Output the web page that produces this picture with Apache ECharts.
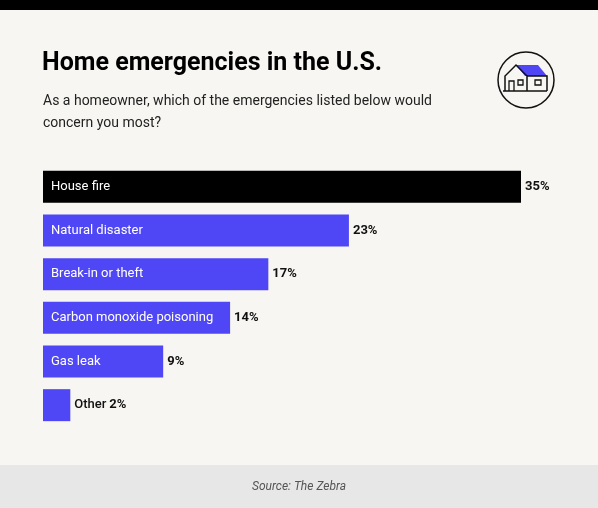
<!DOCTYPE html>
<html><head><meta charset="utf-8">
<script src="https://cdn.jsdelivr.net/npm/echarts@6/dist/echarts.min.js"></script>
<style>html,body{margin:0;padding:0;background:#f7f6f2}#c{width:598px;height:508px}</style>
</head><body><div id="c"></div>
<script>
const categories = ["House fire","Natural disaster","Break-in or theft","Carbon monoxide poisoning","Gas leak","Other"];
const values = [35, 22.4, 16.5, 13.7, 8.8, 2.0];
const valueLabels = ["35%","23%","17%","14%","9%","2%"];
const colors = ["#000000","#4f46f5","#4f46f5","#4f46f5","#4f46f5","#4f46f5"];

const chart = echarts.init(document.getElementById('c'));
const font = 'Roboto, "Liberation Sans", sans-serif';
chart.setOption({
  backgroundColor: '#f7f6f2',
  animation: false,
  grid: {left: 43, right: 77, top: 165, height: 262},
  xAxis: {type: 'value', min: 0, max: 35, show: false},
  yAxis: {type: 'category', data: categories, inverse: true, show: false},
  series: [
    {type: 'bar', barWidth: 32, barCategoryGap: 0,
     data: values.map((v,i)=>({value: v, itemStyle: {color: colors[i]}})),
     label: {show: true, position: 'insideLeft', distance: 8, color: '#fff', fontFamily: font, fontSize: 13,
       formatter: p => p.dataIndex === 5 ? '' : categories[p.dataIndex]}},
    {type: 'bar', barWidth: 32, barGap: '-100%', silent: true,
     data: values.map(v=>({value: v, itemStyle: {color: 'rgba(0,0,0,0)'}})),
     label: {show: true, position: 'right', distance: 4, fontFamily: font,
       formatter: p => p.dataIndex === 5 ? '{n|' + categories[5] + '} {v|' + valueLabels[5] + '}' : '{v|' + valueLabels[p.dataIndex] + '}',
       rich: {n: {fontSize: 13, color: '#111', fontFamily: font, fontWeight: 500},
              v: {fontSize: 13, color: '#111', fontFamily: font, fontWeight: 'bold'}}}}
  ],
  graphic: [
    {type: 'rect', shape: {x: 0, y: 0, width: 598, height: 10}, style: {fill: '#000'}},
    {type: 'rect', shape: {x: 0, y: 465, width: 598, height: 43}, style: {fill: '#e6e7e6'}},
    {type: 'text', x: 299, y: 487, style: {text: 'Source: The Zebra', fill: '#555', font: 'italic 12px ' + font, textAlign: 'center', textVerticalAlign: 'middle'}},
    {type: 'text', x: 42, y: 64, style: {text: 'Home emergencies in the U.S.', fill: '#000', font: 'bold 25px ' + font, textVerticalAlign: 'middle'}},
    {type: 'text', x: 43, y: 101, style: {text: 'As a homeowner, which of the emergencies listed below would', fill: '#222', font: '14px ' + font, textVerticalAlign: 'middle'}},
    {type: 'text', x: 43, y: 123, style: {text: 'concern you most?', fill: '#222', font: '14px ' + font, textVerticalAlign: 'middle'}},
    {type: 'circle', shape: {cx: 526, cy: 80, r: 28}, style: {fill: 'none', stroke: '#111', lineWidth: 1.5}},
    {type: 'polygon', shape: {points: [[516,65],[538,65],[547,76],[525,76]]}, style: {fill: '#4f46f5'}},
    {type: 'polyline', shape: {points: [[505,91],[505,76],[516,65],[527,76],[527,91]]}, style: {fill: 'none', stroke: '#111', lineWidth: 1.5}},
    {type: 'polyline', shape: {points: [[527,76],[547,76],[547,91]]}, style: {fill: 'none', stroke: '#111', lineWidth: 1.5}},
    {type: 'line', shape: {x1: 503, y1: 91, x2: 547, y2: 91}, style: {stroke: '#111', lineWidth: 1.5}},
    {type: 'polyline', shape: {points: [[509,91],[509,81],[514,81],[514,91]]}, style: {fill: 'none', stroke: '#111', lineWidth: 1.3}},
    {type: 'rect', shape: {x: 518, y: 80, width: 5, height: 5}, style: {fill: 'none', stroke: '#111', lineWidth: 1.3}},
    {type: 'rect', shape: {x: 535, y: 80, width: 6, height: 5}, style: {fill: 'none', stroke: '#111', lineWidth: 1.3}}
  ]
});
</script></body></html>
